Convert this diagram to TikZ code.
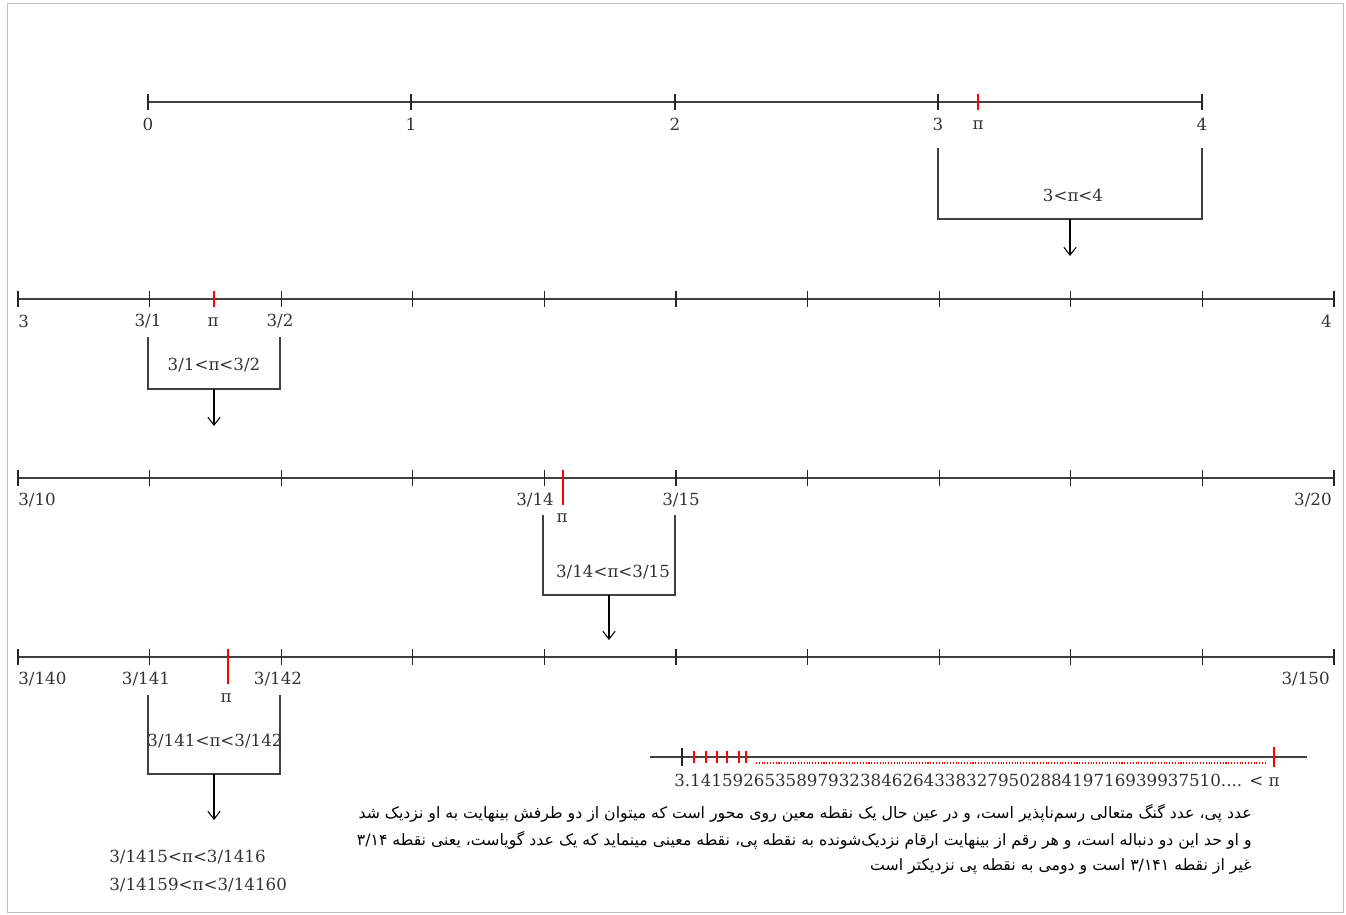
\documentclass[tikz,border=0pt]{standalone}
\usepackage{fontspec}
\usepackage{tikz}
\usetikzlibrary{arrows.meta,positioning,calc}
\newfontfamily\labelfont{DejaVu Serif}
\newfontfamily\persianfont[Script=Arabic]{DejaVu Sans}
\TeXXeTstate=1
\tikzset{
  frame/.style={draw=black!25, line width=0.5pt},
  axis/.style={draw=black!75, line width=0.8pt},
  tick/.style={draw=black!85, line width=0.6pt},
  pitick/.style={draw=red, line width=0.6pt},
  lbl/.style={font=\labelfont\fontsize{9.5}{11}\selectfont, text=black!80, inner sep=0pt},
  bracket/.style={draw=black!75, line width=0.8pt},
  arrow/.style={-{Straight Barb[length=4.5pt,width=7pt]}, line width=0.6pt},
  dotline/.style={draw=red, line width=0.6pt, dash pattern=on 0.6pt off 1pt},
  note/.style={font=\persianfont\fontsize{8.95}{11}\selectfont, inner sep=0pt, anchor=east},
}

\begin{document}
\begin{tikzpicture}[x=0.02cm,y=-0.02cm]
  \useasboundingbox (0,0) rectangle (1346,915);
  \draw[frame] (7,3) rectangle (1343,912);

  % line 0..4
  \draw[axis] (148,102) coordinate (a0) -- (1202,102) coordinate (a4);
  \foreach \x/\t in {148/0,411/1,675/2,938/3,1202/4}{
    \draw[tick] (\x,94) -- (\x,110);
    \node[lbl] (a-\t) at (\x,124) {\t};
  }
  \draw[pitick] (978,94) -- (978,110);
  \node[lbl] (api) at (978,125) {π};

  \draw[bracket] (938,148) -- (938,219) -- (1202,219) -- (1202,148);
  \node[lbl] (ra) at (1073,195) {3<π<4};
  \coordinate (ba) at (1070,219);
  \coordinate (ea) at (1070,256);
  \draw[arrow] (ba) -- (ea);

  % line 3..4
  \draw[axis] (18,299) coordinate (b0) -- (1334,299) coordinate (b10);
  \foreach \i in {0,...,10}
    \draw[tick] ({18+131.6*\i},291) -- ({18+131.6*\i},307);
  \draw[pitick] (214,291) -- (214,307);
  \node[lbl, anchor=west] (b-l) at (18,321) {3};
  \node[lbl] (b-1) at (148,321) {3/1};
  \node[lbl] (bpi) at (213,322) {π};
  \node[lbl] (b-2) at (280,321) {3/2};
  \node[lbl, anchor=east] (b-r) at (1332,321) {4};

  \draw[bracket] (148,337) -- (148,389) -- (280,389) -- (280,337);
  \node[lbl] (rb) at (214,365) {3/1<π<3/2};
  \coordinate (bb) at (214,389);
  \coordinate (eb) at (214,426);
  \draw[arrow] (bb) -- (eb);

  % line 3/10..3/20
  \draw[axis] (18,478) coordinate (c0) -- (1334,478) coordinate (c10);
  \foreach \i in {0,...,10}
    \draw[tick] ({18+131.6*\i},470) -- ({18+131.6*\i},486);
  \draw[pitick] (563,470) -- (563,505);
  \node[lbl, anchor=west] (c-l) at (18,500) {3/10};
  \node[lbl] (c-14) at (535,500) {3/14};
  \node[lbl] (cpi) at (562,518) {π};
  \node[lbl] (c-15) at (681,500) {3/15};
  \node[lbl, anchor=east] (c-r) at (1332,500) {3/20};

  \draw[bracket] (543,515) -- (543,595) -- (675,595) -- (675,515);
  \node[lbl] (rc) at (613,572) {3/14<π<3/15};
  \coordinate (bc) at (609,595);
  \coordinate (ec) at (609,640);
  \draw[arrow] (bc) -- (ec);

  % line 3/140..3/150
  \draw[axis] (18,657) coordinate (d0) -- (1334,657) coordinate (d10);
  \foreach \i in {0,...,10}
    \draw[tick] ({18+131.6*\i},649) -- ({18+131.6*\i},665);
  \draw[pitick] (228,649) -- (228,684);
  \node[lbl, anchor=west] (d-l) at (18,679) {3/140};
  \node[lbl] (d-141) at (146,679) {3/141};
  \node[lbl] (dpi) at (226,698) {π};
  \node[lbl] (d-142) at (278,679) {3/142};
  \node[lbl, anchor=east] (d-r) at (1330,679) {3/150};

  \draw[bracket] (148,695) -- (148,774) -- (280,774) -- (280,695);
  \node[lbl] (rd) at (215,741) {3/141<π<3/142};
  \coordinate (bd) at (214,774);
  \coordinate (ed) at (214,820);
  \draw[arrow] (bd) -- (ed);

  \node[lbl, anchor=west] (re) at (109,857) {3/1415<π<3/1416};
  \node[lbl, anchor=west] (rf) at (109,885) {3/14159<π<3/14160};

  % digits of pi
  \draw[axis] (650,757) coordinate (s0) -- (1307,757) coordinate (s1);
  \draw[tick] (682,748) -- (682,766);
  \foreach \x in {694,706,717,727,739,746}
    \draw[pitick] (\x,751) -- (\x,763);
  \draw[pitick] (1274,747) -- (1274,767);
  \draw[dotline] (756,763) -- (1267,763);
  \node[lbl] (digits) at (977,780) {3.14159265358979323846264338327950288419716939937510.... < π};

  % note
  \node[note] (n1) at (1252,813) {\beginR عدد پی، عدد گنگ متعالی رسم‌ناپذیر است، و در عین حال یک نقطه معین روی محور است  که میتوان از دو طرفش بینهایت به او نزدیک شد\endR};
  \node[note] (n2) at (1252,840) {\beginR و او حد این دو دنباله است، و هر رقم از بینهایت ارقام نزدیک‌شونده به نقطه پی، نقطه معینی مینماید  که یک عدد گویاست، یعنی نقطه \beginL ۳/۱۴\endL\endR};
  \node[note] (n3) at (1252,866) {\beginR غیر از نقطه \beginL ۳/۱۴۱\endL{} است و دومی به نقطه پی نزدیکتر است\endR};
\end{tikzpicture}
\end{document}
